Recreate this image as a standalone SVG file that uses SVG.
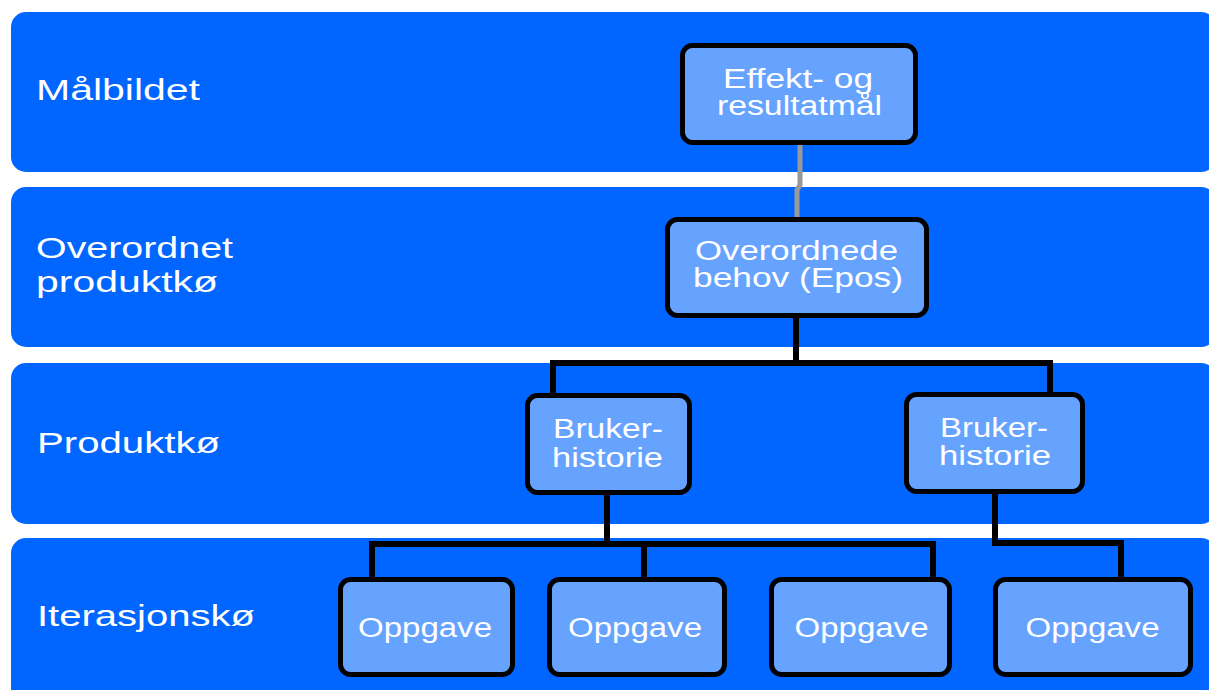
<svg xmlns="http://www.w3.org/2000/svg" width="1209" height="690" viewBox="0 0 1209 690">
<style>
.band{fill:#0066FF;}
.node{fill:#66A3FF;stroke:#000;stroke-width:5;}
.lbl{font-family:"Liberation Sans",Arial,sans-serif;font-size:29px;fill:#fff;}
.t{font-family:"Liberation Sans",Arial,sans-serif;font-size:27px;fill:#fff;text-anchor:middle;}
.blk{fill:none;stroke:#000;stroke-width:6;stroke-linejoin:miter;}
.gry{fill:none;stroke:#999;stroke-width:5;}
</style>
<rect width="1209" height="690" fill="#fff"/>
<g id="bands">
<rect class="band" x="11" y="12" width="1205" height="160" rx="15"/>
<rect class="band" x="11" y="187" width="1205" height="160" rx="15"/>
<rect class="band" x="11" y="363" width="1205" height="161" rx="15"/>
<rect class="band" x="11" y="538" width="1205" height="170" rx="15"/>
<text class="lbl" x="36" y="100" textLength="164" lengthAdjust="spacingAndGlyphs">Målbildet</text>
<text class="lbl" x="36" y="258" textLength="197" lengthAdjust="spacingAndGlyphs">Overordnet</text>
<text class="lbl" x="36" y="292" textLength="182" lengthAdjust="spacingAndGlyphs">produktkø</text>
<text class="lbl" x="37" y="453" textLength="183" lengthAdjust="spacingAndGlyphs">Produktkø</text>
<text class="lbl" x="37" y="626" textLength="218" lengthAdjust="spacingAndGlyphs">Iterasjonskø</text>
</g>
<g id="connectors">
<path class="gry" d="M800,145 V185 L797,190 V218"/>
<path class="blk" d="M796,318 V363"/>
<path class="blk" d="M553,394 V363 H1050 V393"/>
<path class="blk" d="M607,495 V544"/>
<path class="blk" d="M372,578 V544 H933 V578"/>
<path class="blk" d="M644,544 V578"/>
<path class="blk" d="M995,494 V543 H1121 V578"/>
</g>
<g id="effekt">
<rect class="node" x="682.5" y="45.5" width="233" height="97" rx="10"/>
<text class="t" x="798" y="88" textLength="150" lengthAdjust="spacingAndGlyphs">Effekt- og</text>
<text class="t" x="799.5" y="115" textLength="165" lengthAdjust="spacingAndGlyphs">resultatmål</text>
</g>
<g id="epos">
<rect class="node" x="667.5" y="219.5" width="259" height="96" rx="10"/>
<text class="t" x="796.5" y="260" font-size="26" textLength="203" lengthAdjust="spacingAndGlyphs">Overordnede</text>
<text class="t" x="798" y="287" font-size="26" textLength="210" lengthAdjust="spacingAndGlyphs">behov (Epos)</text>
</g>
<g id="bruker1">
<rect class="node" x="527.5" y="395.5" width="162" height="97" rx="10"/>
<text class="t" x="608" y="438" textLength="110" lengthAdjust="spacingAndGlyphs">Bruker-</text>
<text class="t" x="607.5" y="467" textLength="111" lengthAdjust="spacingAndGlyphs">historie</text>
</g>
<g id="bruker2">
<rect class="node" x="906.5" y="394.5" width="176" height="97" rx="10"/>
<text class="t" x="994" y="437" textLength="108" lengthAdjust="spacingAndGlyphs">Bruker-</text>
<text class="t" x="995" y="465" textLength="112" lengthAdjust="spacingAndGlyphs">historie</text>
</g>
<g id="oppgave1">
<rect class="node" x="340.5" y="579.5" width="172" height="95" rx="10"/>
<text class="t" x="425" y="637" textLength="134" lengthAdjust="spacingAndGlyphs">Oppgave</text>
</g>
<g id="oppgave2">
<rect class="node" x="549.5" y="579.5" width="175" height="95" rx="10"/>
<text class="t" x="635" y="637" textLength="134" lengthAdjust="spacingAndGlyphs">Oppgave</text>
</g>
<g id="oppgave3">
<rect class="node" x="771.5" y="579.5" width="178" height="95" rx="10"/>
<text class="t" x="861.5" y="637" textLength="134" lengthAdjust="spacingAndGlyphs">Oppgave</text>
</g>
<g id="oppgave4">
<rect class="node" x="995.5" y="579.5" width="195" height="95" rx="10"/>
<text class="t" x="1092.5" y="637" textLength="134" lengthAdjust="spacingAndGlyphs">Oppgave</text>
</g>
</svg>
